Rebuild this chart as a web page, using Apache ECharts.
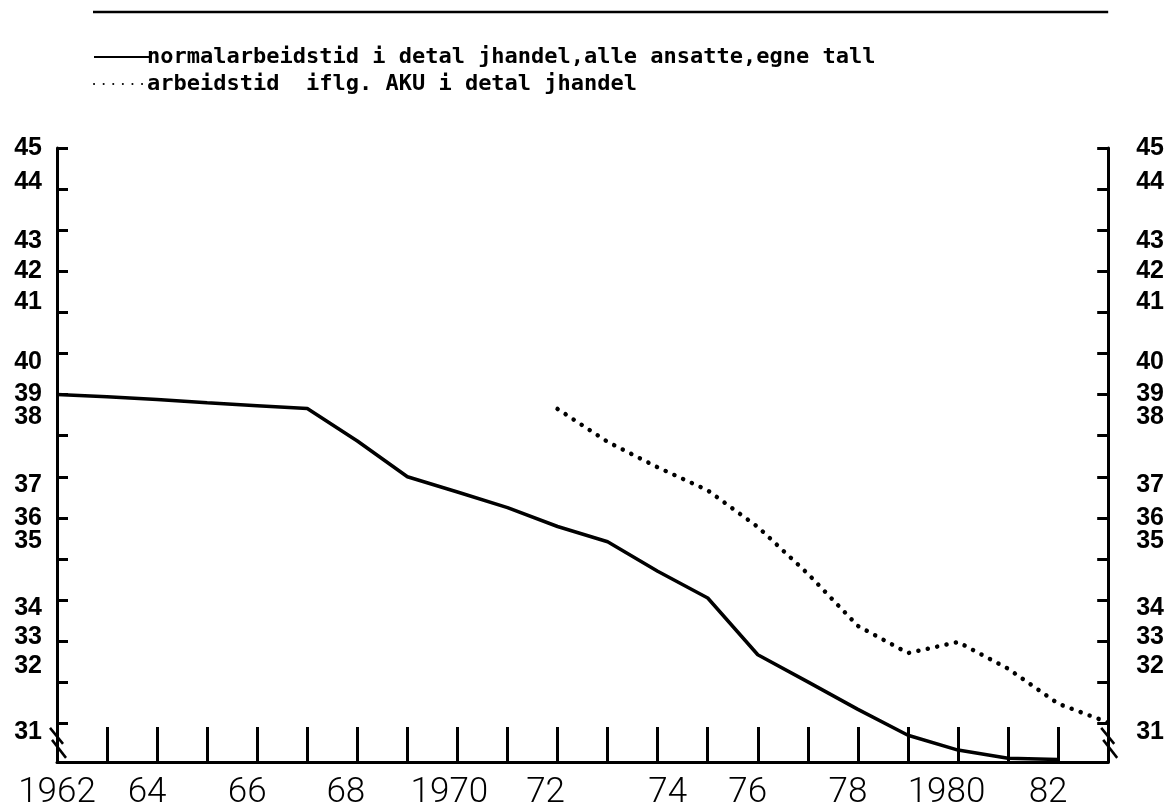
<!DOCTYPE html>
<html>
<head>
<meta charset="utf-8">
<title>Arbeidstid i detaljhandel</title>
<script src="https://cdn.jsdelivr.net/npm/echarts@6/dist/echarts.min.js"></script>
<style>
  html, body { margin: 0; padding: 0; background: #fff; }
  #chart { width: 1167px; height: 811px; }
</style>
</head>
<body>
<div id="chart"></div>
<script>
// serienavn
const nameNormal = 'normalarbeidstid i detal jhandel,alle ansatte,egne tall'
const nameAku = 'arbeidstid  iflg. AKU i detal jhandel'

// normalarbeidstid, 1962-1982
const normalYears = [1962, 1963, 1964, 1965, 1966, 1967, 1968, 1969, 1970, 1971, 1972,
  1973, 1974, 1975, 1976, 1977, 1978, 1979, 1980, 1981, 1982]
const normalHours = [39.0, 38.95, 38.88, 38.8, 38.73, 38.66, 37.87, 37.0, 36.63, 36.25, 35.79,
  35.42, 34.7, 34.05, 32.67, 32.01, 31.34, 30.71, 30.35, 30.15, 30.12]

// AKU, 1972-1983
const akuYears = [1972, 1973, 1974, 1975, 1976, 1977, 1978, 1979, 1980, 1981, 1982, 1983]
const akuHours = [38.65, 37.85, 37.23, 36.67, 35.78, 34.64, 33.37, 32.71, 32.98, 32.33, 31.48, 31.02]

// akser
const xTicks = [1963, 1964, 1965, 1966, 1967, 1968, 1969, 1970, 1971, 1972,
  1973, 1974, 1975, 1976, 1977, 1978, 1979, 1980, 1981, 1982]
const xLabelText = ['1962', '64', '66', '68', '1970', '72', '74', '76', '78', '1980', '82']
const xLabelAt = [1962, 1963.8, 1965.8, 1967.77, 1969.84, 1971.76, 1974.2, 1975.8, 1977.8, 1979.77, 1981.8]

const yTicks = [31, 32, 33, 34, 35, 36, 37, 38, 39, 40, 41, 42, 43, 44, 45]
const yLabelText = ['45', '44', '43', '42', '41', '40', '39', '38', '37', '36', '35', '34', '33', '32', '31']
const yLabelAt = [45, 44.18, 42.73, 42.01, 41.26, 39.79, 39.01, 38.46, 36.8, 36.0, 35.44, 33.8, 33.1, 32.4, 30.78]

const pick = (at, text) => (v) => {
  const i = at.findIndex((a) => Math.abs(a - v) < 1e-6)
  return i < 0 ? '' : text[i]
}

const yAxisBase = (pos, margin, align) => ({
  type: 'value',
  position: pos,
  min: 30.06,
  max: 45,
  splitLine: { show: false },
  axisLine: { show: true, lineStyle: { color: '#000', width: 3 } },
  axisTick: {
    show: true,
    inside: true,
    length: 11,
    customValues: yTicks,
    lineStyle: { color: '#000', width: 3 }
  },
  axisLabel: {
    customValues: yLabelAt,
    formatter: pick(yLabelAt, yLabelText),
    margin: margin,
    align: align,
    color: '#000',
    fontFamily: 'Liberation Sans',
    fontWeight: 'bold',
    fontSize: 25
  }
})

const chart = echarts.init(document.getElementById('chart'))

const option = {
  backgroundColor: '#fff',
  animation: false,
  grid: { left: 57, right: 58, top: 148, bottom: 44, containLabel: false },
  legend: {
    orient: 'vertical',
    left: 88,
    top: 41,
    itemWidth: 56,
    itemHeight: 14,
    itemGap: 5,
    itemStyle: { opacity: 0 },
    textStyle: {
      color: '#000',
      fontFamily: 'DejaVu Sans Mono',
      fontWeight: 'bold',
      fontSize: 22,
      padding: [0, 0, 0, -8]
    },
    data: [nameNormal, nameAku]
  },
  xAxis: {
    type: 'value',
    min: 1962,
    max: 1983,
    splitLine: { show: false },
    axisLine: { show: true, lineStyle: { color: '#000', width: 3 } },
    axisTick: {
      show: true,
      inside: true,
      length: 35,
      customValues: xTicks,
      lineStyle: { color: '#000', width: 3 }
    },
    axisLabel: {
      customValues: xLabelAt,
      formatter: pick(xLabelAt, xLabelText),
      margin: 14,
      color: '#000',
      fontFamily: 'Roboto',
      fontWeight: 300,
      fontSize: 35
    }
  },
  yAxis: [yAxisBase('left', 15, 'right'), yAxisBase('right', 28, 'left')],
  series: [
    {
      name: nameNormal,
      type: 'line',
      yAxisIndex: 0,
      showSymbol: false,
      symbol: 'none',
      data: normalYears.map((y, i) => [y, normalHours[i]]),
      itemStyle: { color: '#000' },
      lineStyle: { color: '#000', width: 3.5 }
    },
    {
      name: nameAku,
      type: 'line',
      yAxisIndex: 0,
      showSymbol: false,
      symbol: 'none',
      data: akuYears.map((y, i) => [y, akuHours[i]]),
      itemStyle: { color: '#000' },
      lineStyle: { color: '#000', width: 4.5, type: [0.1, 9.5], cap: 'round' }
    }
  ]
}

chart.setOption(option)

// strek over figuren og brudd-merker nederst på y-aksene
const p0 = chart.convertToPixel({ gridIndex: 0 }, [1962, 30.55])
const p1 = chart.convertToPixel({ gridIndex: 0 }, [1983, 30.55])
const breakMark = (x, y) => [
  { type: 'line', shape: { x1: x - 7, y1: y - 14, x2: x + 6, y2: y + 2 }, style: { stroke: '#000', lineWidth: 2.5 } },
  { type: 'line', shape: { x1: x - 5, y1: y - 2, x2: x + 9, y2: y + 16 }, style: { stroke: '#000', lineWidth: 2.5 } }
]
chart.setOption({
  graphic: [
    { type: 'line', shape: { x1: 93, y1: 12, x2: p1[0], y2: 12 }, style: { stroke: '#000', lineWidth: 2.5 } },
    ...breakMark(p0[0], p0[1]),
    ...breakMark(p1[0], p1[1])
  ]
})
</script>
</body>
</html>
